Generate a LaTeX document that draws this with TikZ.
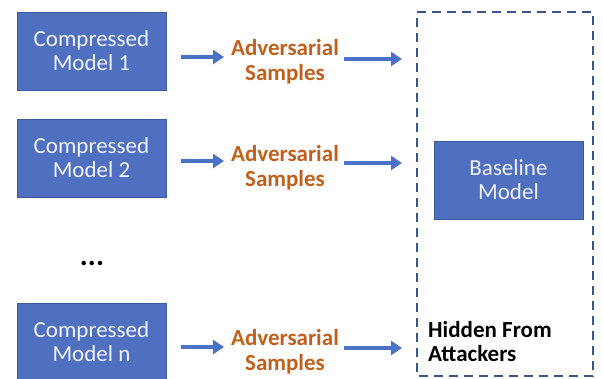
\documentclass[tikz,border=0pt]{standalone}
\usepackage{fontspec}
\setmainfont{Carlito}
\usetikzlibrary{arrows.meta}
\definecolor{boxfill}{HTML}{4F70C0}
\definecolor{boxline}{HTML}{3A5A9C}
\definecolor{advorange}{HTML}{C0601C}
\definecolor{arrowblue}{HTML}{4A72C6}
\definecolor{dashblue}{HTML}{3A5688}
\tikzset{
  modelbox/.style={draw=boxline, line width=0.8pt, fill=boxfill, text=white!95!blue,
    minimum width=149pt, minimum height=78pt, align=center, inner sep=0pt,
    font=\fontsize{23}{24}\selectfont},
  advtext/.style={text=advorange, align=center, font=\bfseries\fontsize{23}{25}\selectfont},
  flow/.style={draw=arrowblue, line width=3.6pt, -{Triangle[length=11pt,width=14pt]}},
}
\begin{document}
\begin{tikzpicture}[x=1pt,y=-1pt]
\useasboundingbox (0,0) rectangle (603,379);
% dashed container
\draw[dashblue, line width=2.2pt, dash pattern=on 9pt off 6pt] (417,12) -- (593,12) -- (593,376) -- (417,376) -- cycle;
% models
\node[modelbox] (m1) at (91.5,51) {Compressed\\Model 1};
\node[modelbox] (m2) at (91.5,158) {Compressed\\Model 2};
\node[modelbox] (mn) at (91.5,342) {Compressed\\Model n};
\node[font=\bfseries\fontsize{30}{30}\selectfont] (dots) at (92,263) {...};
% adversarial samples
\node[advtext] (a1) at (285,62) {Adversarial\\Samples};
\node[advtext] (a2) at (285,168) {Adversarial\\Samples};
\node[advtext] (an) at (285,352) {Adversarial\\Samples};
% baseline
\node[modelbox] (base) at (508.5,180) {Baseline\\Model};
\node[font=\bfseries\fontsize{23}{24}\selectfont, align=left, anchor=west, inner sep=0pt] (hid) at (428,342) {Hidden From\\Attackers};
% arrow end points
\coordinate (s1) at (181,57);
\coordinate (s2) at (181,161);
\coordinate (sn) at (181,347);
\coordinate (e1) at (224,57);
\coordinate (e2) at (224,161);
\coordinate (en) at (224,347);
\coordinate (f1) at (344,59);
\coordinate (f2) at (344,163);
\coordinate (fn) at (344,348);
\coordinate (t1) at (402,59);
\coordinate (t2) at (402,163);
\coordinate (tn) at (402,348);
\draw[flow] (s1) -- (e1);
\draw[flow] (s2) -- (e2);
\draw[flow] (sn) -- (en);
\draw[flow] (f1) -- (t1);
\draw[flow] (f2) -- (t2);
\draw[flow] (fn) -- (tn);
\end{tikzpicture}
\end{document}
